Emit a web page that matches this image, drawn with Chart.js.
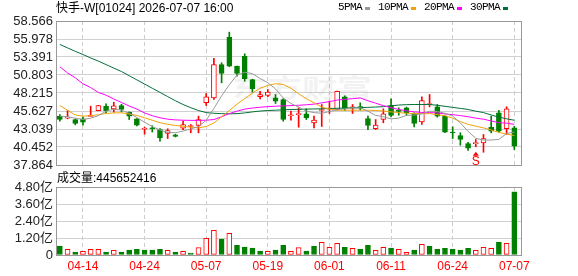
<!DOCTYPE html>
<html>
<head>
<meta charset="utf-8">
<script src="https://cdn.jsdelivr.net/npm/chart.js@4.4.0/dist/chart.umd.min.js"></script>
<style>
	body { margin: 0; background: #fff; width: 578px; height: 276px; overflow: hidden; position: relative; }
	canvas { position: absolute; left: 0; }
	#kline { top: 0; }
	#vol { top: 176px; }
	.txt { position: absolute; white-space: pre; color: #000; font: 12px 'Liberation Sans', 'Noto Sans CJK SC', sans-serif; line-height: 14px; }
	#title { left: 56px; top: 1px; }
	#legend { left: 338px; top: 1px; display: flex; }
	#legend span { font: 11px 'Liberation Mono', monospace; letter-spacing: -0.6px; }
	#legend i { display: inline-block; width: 5px; height: 3px; margin: 6px 8px 0 3px; }
	#volLabel { left: 57px; top: 171px; }
</style>
</head>
<body>
<canvas id="kline" width="578" height="176"></canvas>
<canvas id="vol" width="578" height="100"></canvas>
<div class="txt" id="title"></div>
<div class="txt" id="legend"></div>
<div class="txt" id="volLabel"></div>
<script>
//------------------------------------ data ------------------------------------//

var stockName = '快手-W';
var stockCode = '01024';
var quoteTime = '2026-07-07 16:00';

var dates = ['04-09','04-10','04-13','04-14','04-15','04-16','04-17','04-20','04-21','04-22',
	'04-23','04-24','04-27','04-28','04-29','04-30','05-04','05-05','05-06','05-07',
	'05-08','05-11','05-12','05-13','05-14','05-15','05-18','05-19','05-20','05-21',
	'05-22','05-26','05-27','05-28','05-29','06-01','06-02','06-03','06-04','06-05',
	'06-08','06-09','06-10','06-11','06-12','06-15','06-16','06-17','06-18','06-22',
	'06-23','06-24','06-25','06-26','06-29','06-30','07-02','07-03','07-06','07-07'];

var xTickLabels = ['04-14','04-24','05-07','05-19','06-01','06-11','06-24','07-07'];
var yTickLabels = ['58.566','55.978','53.391','50.803','48.215','45.627','43.039','40.452','37.864'];
var volTicks = [0, 120000000, 240000000, 360000000, 480000000];
var volTickLabels = ['0','1.20亿','2.40亿','3.60亿','4.80亿'];

var open = [44.88,44.60,44.40,44.50,44.85,45.69,46.32,45.94,46.42,45.45,
	44.50,43.00,43.12,42.97,42.39,42.20,43.16,43.40,43.54,46.81,
	47.52,52.31,56.24,52.07,53.50,50.15,47.67,47.85,47.52,47.28,
	44.95,45.10,45.22,43.93,45.70,45.90,45.84,47.67,46.07,46.25,
	44.55,43.07,44.40,46.42,45.62,46.09,45.22,44.07,46.54,46.23,
	44.88,42.51,42.10,40.95,40.93,41.05,43.30,45.37,43.07,43.21];

var close = [44.40,44.65,43.83,44.02,44.93,46.42,45.66,46.37,45.84,44.88,
	43.60,43.05,43.08,41.77,42.82,41.98,43.68,43.44,44.40,47.67,
	52.31,51.02,52.07,51.02,50.26,48.82,47.99,48.33,47.04,44.40,
	45.00,45.14,44.65,44.31,45.76,45.96,48.47,45.94,46.11,46.05,
	43.54,43.59,45.22,44.98,45.58,45.37,43.83,47.13,46.58,44.88,
	42.58,42.47,41.53,40.28,40.97,41.67,42.72,42.72,45.94,40.57];

var high = [45.12,45.70,44.50,44.79,46.32,46.45,46.66,46.89,46.60,45.50,
	44.55,43.30,43.50,43.11,43.07,42.30,44.16,43.68,44.88,48.14,
	53.20,52.56,56.96,52.10,53.85,50.20,48.47,48.72,48.00,47.40,
	45.60,46.09,45.94,44.88,46.56,47.04,48.50,47.80,46.56,46.80,
	44.88,44.40,45.94,47.38,46.09,46.20,45.37,47.67,48.00,46.56,
	44.95,43.35,42.50,41.14,41.53,42.25,44.88,45.74,46.23,43.44];

var low = [44.16,44.50,43.64,43.59,44.85,45.65,45.37,45.45,45.50,44.40,
	43.50,42.30,42.60,41.29,41.67,41.90,42.96,42.49,42.49,46.42,
	47.28,49.68,52.00,50.63,49.91,48.33,47.38,47.67,46.70,44.16,
	44.30,43.30,44.40,43.21,43.40,45.27,45.80,45.70,45.27,45.74,
	42.96,42.96,43.93,44.79,45.02,45.00,43.35,43.69,46.23,44.74,
	42.50,41.67,40.71,39.95,40.48,39.70,42.49,42.58,42.25,40.09];

var ma5 = [44.88,44.80,44.60,44.40,44.60,44.95,45.60,45.90,45.75,45.30,
	44.70,44.00,43.40,42.90,42.55,42.50,42.75,43.05,43.40,44.30,
	46.00,47.80,49.40,50.80,51.20,51.00,50.30,49.70,48.80,47.50,
	46.70,46.20,45.60,45.40,45.30,45.55,45.80,45.95,46.05,46.10,
	45.60,45.00,44.80,44.50,44.60,45.00,45.05,45.20,45.60,45.55,
	45.30,44.90,43.90,42.70,41.70,41.45,41.45,41.55,42.40,42.60];

var ma10 = [46.42,45.74,45.05,44.88,44.95,45.10,45.27,45.35,45.37,45.20,
	45.00,44.65,44.30,43.95,43.70,43.55,43.44,43.30,43.21,43.40,
	43.90,44.80,45.70,46.60,47.40,48.20,48.90,49.30,49.55,49.45,
	48.90,48.10,47.40,46.80,46.20,45.90,45.74,45.74,45.74,45.74,
	45.74,45.70,45.62,45.50,45.40,45.30,45.27,45.27,45.25,45.10,
	44.95,44.60,44.10,43.70,43.45,43.20,42.90,42.55,42.30,42.10];

var ma20 = [51.98,51.10,50.40,49.54,49.00,48.30,47.90,47.35,46.85,46.35,
	45.90,45.35,44.95,44.65,44.45,44.35,44.30,44.28,44.28,44.30,
	44.40,44.80,45.25,45.60,45.90,46.05,46.17,46.25,46.32,46.36,
	46.40,46.45,46.52,46.62,46.80,46.98,47.20,47.30,47.40,47.50,
	47.10,46.75,46.40,46.10,45.85,45.65,45.50,45.42,45.40,45.35,
	45.20,45.10,44.97,44.80,44.60,44.45,44.20,43.95,43.88,43.70];

var ma30 = [55.19,54.70,54.20,53.75,53.25,52.80,52.30,51.80,51.30,50.70,
	50.10,49.50,48.90,48.30,47.70,47.10,46.56,46.10,45.70,45.40,
	45.30,45.25,45.22,45.25,45.35,45.50,45.62,45.70,45.74,45.80,
	45.84,45.86,45.90,45.92,45.94,45.98,46.02,46.05,46.08,46.10,
	46.15,46.20,46.25,46.38,46.48,46.54,46.56,46.56,46.56,46.45,
	46.30,46.15,46.00,45.85,45.60,45.40,45.05,44.75,44.50,44.30];

var maNames = ['5PMA','10PMA','20PMA','30PMA'];

var volume = [63000000,40000000,21000000,26000000,40000000,40000000,21000000,33000000,21000000,35000000,
	40000000,35000000,35000000,40000000,33000000,21000000,26000000,14000000,52000000,117000000,
	174000000,113000000,153000000,68000000,56000000,49000000,28000000,26000000,35000000,68000000,
	26000000,52000000,28000000,63000000,89000000,54000000,82000000,54000000,47000000,42000000,
	68000000,33000000,54000000,49000000,40000000,19000000,35000000,75000000,63000000,42000000,
	47000000,42000000,35000000,47000000,33000000,54000000,47000000,92000000,82000000,445652416];

// 1 = red (up) volume bar, 0 = green
var volUp = [0,1,0,1,1,1,0,1,0,0, 0,0,0,0,1,0,1,0,1,1, 1,0,1,0,0,0,0,1,0,0,
	1,1,0,0,1,1,1,0,1,0, 0,1,1,0,1,1,0,1,0,0, 0,0,0,0,1,1,1,0,1,0];

var signalIdx = [54];
var signalText = ['S'];

//------------------------------------ view ------------------------------------//

var RED = '#ff0000';
var GREEN = '#008000';
var maColors = ['#999999', '#f0a30a', '#ff00ff', '#00703a'];
var FONT = "'Liberation Sans', 'Noto Sans CJK SC', sans-serif";

Chart.defaults.font.family = FONT;

function isUp(i) {
	return close[i] >= open[i];
}

var xTickIdx = xTickLabels.map(d => dates.indexOf(d));

function xAxis(showLabels) {
	return {
		type: 'linear',
		offset: false,
		min: -0.5,
		max: dates.length,
		afterBuildTicks: s => { s.ticks = xTickIdx.map(v => ({ value: v })); },
		afterFit: s => { s.height = showLabels ? 18 : 0; },
		grid: { color: '#cccccc', drawTicks: false, offset: false },
		border: { display: false, dash: [4, 3] },
		ticks: {
			display: showLabels,
			autoSkip: false,
			maxRotation: 0,
			padding: 4,
			color: RED,
			font: { size: 12 },
			callback: v => dates[v]
		}
	};
}

function yAxis(tickValues, tickLabels) {
	return {
		type: 'linear',
		min: Math.min.apply(null, tickValues),
		max: Math.max.apply(null, tickValues),
		afterBuildTicks: s => { s.ticks = tickValues.map(v => ({ value: v })); },
		afterFit: s => { s.width = 56; },
		grid: { color: '#d0d0d0', drawTicks: false },
		border: { display: false },
		ticks: {
			autoSkip: false,
			padding: 3,
			color: '#222222',
			font: { size: 13 },
			callback: (v, i) => tickLabels[i]
		}
	};
}

var framePlugin = {
	id: 'frame',
	afterDraw(chart) {
		var a = chart.chartArea;
		var ctx = chart.ctx;
		ctx.save();
		ctx.strokeStyle = '#999999';
		ctx.lineWidth = 1;
		ctx.strokeRect(Math.round(a.left) + 0.5, Math.round(a.top) + 0.5, Math.round(a.right - a.left) - 1, Math.round(a.bottom - a.top));
		ctx.restore();
	}
};

var watermarkPlugin = {
	id: 'watermark',
	beforeDatasetsDraw(chart) {
		var a = chart.chartArea;
		var ctx = chart.ctx;
		ctx.save();
		ctx.fillStyle = 'rgba(170,170,170,0.15)';
		ctx.font = "bold 25px 'Noto Sans CJK SC'";
		ctx.textBaseline = 'middle';
		ctx.translate(a.left + 176, a.top + 66);
		ctx.scale(1.4, 1);
		ctx.fillText('东方财富', 0, 0);
		ctx.restore();
	}
};

var signalPlugin = {
	id: 'signal',
	afterDatasetsDraw(chart) {
		var ctx = chart.ctx;
		signalIdx.forEach((idx, k) => {
			var px = chart.scales.x.getPixelForValue(idx);
			var py = chart.scales.y.getPixelForValue(low[idx]);
			ctx.save();
			ctx.fillStyle = RED;
			ctx.beginPath();
			ctx.moveTo(px, py + 5);
			ctx.lineTo(px - 3, py + 9);
			ctx.lineTo(px + 3, py + 9);
			ctx.closePath();
			ctx.fill();
			ctx.font = '12px ' + FONT;
			ctx.textAlign = 'center';
			ctx.textBaseline = 'top';
			ctx.fillText(signalText[k], px, py + 9);
			ctx.restore();
		});
	}
};

function renderText() {
	document.getElementById('title').textContent = stockName + '[' + stockCode + '] ' + quoteTime;

	var legend = document.getElementById('legend');
	maNames.forEach((name, i) => {
		var label = document.createElement('span');
		label.textContent = name;
		legend.appendChild(label);
		var box = document.createElement('i');
		box.style.background = maColors[i];
		legend.appendChild(box);
	});

	document.getElementById('volLabel').textContent = '成交量:' + volume[volume.length - 1];
}

function drawKline() {
	var maSets = [ma5, ma10, ma20, ma30].map((arr, k) => ({
		type: 'line',
		data: arr.map((v, i) => ({ x: i, y: v })),
		borderColor: maColors[k],
		borderWidth: 1,
		pointRadius: 0,
		tension: 0,
		order: 0
	}));

	var bodies = {
		type: 'bar',
		data: open.map((o, i) => ({ x: i, y: [o, close[i]] })),
		backgroundColor: c => isUp(c.dataIndex) ? '#ffffff' : GREEN,
		borderColor: c => isUp(c.dataIndex) ? RED : GREEN,
		borderWidth: 1,
		borderSkipped: false,
		barThickness: 5,
		minBarLength: 1,
		grouped: false,
		order: 1
	};

	var wicks = {
		type: 'bar',
		data: low.map((l, i) => ({ x: i, y: [l, high[i]] })),
		backgroundColor: c => isUp(c.dataIndex) ? RED : GREEN,
		barThickness: 1,
		grouped: false,
		order: 2
	};

	var priceTicks = yTickLabels.map(t => parseFloat(t)).reverse();

	new Chart(document.getElementById('kline'), {
		type: 'bar',
		data: { datasets: maSets.concat([bodies, wicks]) },
		options: {
			responsive: false,
			animation: false,
			events: [],
			layout: { padding: { left: 0, right: 56, top: 21, bottom: 11 } },
			plugins: { legend: { display: false }, tooltip: { enabled: false } },
			scales: {
				x: xAxis(false),
				y: yAxis(priceTicks, yTickLabels.slice().reverse())
			}
		},
		plugins: [watermarkPlugin, signalPlugin, framePlugin]
	});
}

function drawVolume() {
	new Chart(document.getElementById('vol'), {
		type: 'bar',
		data: {
			datasets: [{
				data: volume.map((v, i) => ({ x: i, y: v })),
				backgroundColor: c => volUp[c.dataIndex] ? '#ffffff' : GREEN,
				borderColor: c => volUp[c.dataIndex] ? RED : GREEN,
				borderWidth: 1,
				borderSkipped: false,
				barThickness: 5,
				grouped: false
			}]
		},
		options: {
			responsive: false,
			animation: false,
			events: [],
			layout: { padding: { left: 0, right: 56, top: 11, bottom: 3 } },
			plugins: { legend: { display: false }, tooltip: { enabled: false } },
			scales: {
				x: xAxis(true),
				y: yAxis(volTicks, volTickLabels)
			}
		},
		plugins: [framePlugin]
	});
}

renderText();
drawKline();
drawVolume();
</script>
</body>
</html>
